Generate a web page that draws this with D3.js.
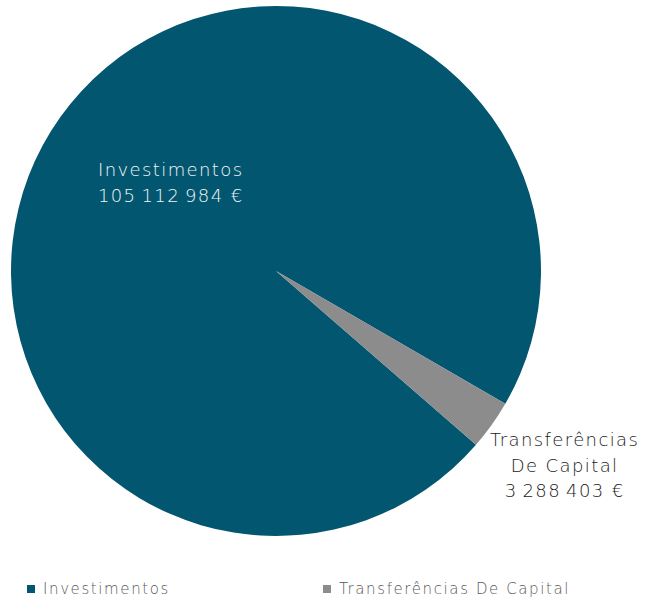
<!DOCTYPE html>
<html>
<head>
<meta charset="utf-8">
<script src="https://cdnjs.cloudflare.com/ajax/libs/d3/7.8.5/d3.min.js"></script>
<style>
  body { margin: 0; background: #fff; }
  svg { display: block; }
</style>
</head>
<body>
<div id="chart"></div>
<script>
// data
var categories = ["Investimentos", "Transferências De Capital"];
var labelLines = [["Investimentos"], ["Transferências", "De Capital"]];
var values = [105112984, 3288403];
var colors = ["#03566f", "#8c8c8c"];

var width = 645, height = 602;
var cx = 276, cy = 271, radius = 265;

var fmt = d3.formatLocale({decimal: ",", thousands: "\u202f", grouping: [3], currency: ["", " €"]}).format(",d");

var svg = d3.select("#chart").append("svg")
    .attr("width", width)
    .attr("height", height);

var g = svg.append("g")
    .attr("transform", "translate(" + cx + "," + cy + ")");

//////// PIE ////////
var pie = d3.pie()
    .sort(null)
    .startAngle(131 * Math.PI / 180)
    .endAngle(131 * Math.PI / 180 + 2 * Math.PI)
    .value(function(d, i) { return values[i]; });

var arc = d3.arc().innerRadius(0).outerRadius(radius);
var inLabel = d3.arc().innerRadius(radius * 0.53).outerRadius(radius * 0.53);
var outLabel = d3.arc().innerRadius(radius * 1.32).outerRadius(radius * 1.32);

var arcs = pie(categories);

g.selectAll("path.slice")
    .data(arcs)
    .enter().append("path")
        .attr("class", "slice")
        .attr("d", arc)
        .attr("fill", function(d, i) { return colors[i]; });

// labels (inside for the big slice, outside for the small one)
var labels = g.selectAll("text.lbl")
    .data(arcs)
    .enter().append("text")
        .attr("class", "lbl")
        .attr("text-anchor", "middle")
        .attr("font-family", "'DejaVu Sans', sans-serif")
        .attr("font-weight", 200)
        .attr("font-size", 18)
        .attr("letter-spacing", 1.4)
        .attr("fill", function(d, i) { return i === 0 ? "#f2f6f8" : "#1a1a1a"; })
        .attr("transform", function(d, i) {
            var c = i === 0 ? inLabel.centroid(d) : outLabel.centroid(d);
            var lines = labelLines[i].length + 1;
            var dx = i === 0 ? 9 : 4;
            var dy = i === 0 ? -6 : -8;
            return "translate(" + (c[0] + dx) + "," + (c[1] + dy - (lines - 1) * 13 + 6) + ")";
        });

labels.each(function(d, i) {
    var t = d3.select(this);
    var lines = labelLines[i].concat([fmt(values[i]) + " €"]);
    lines.forEach(function(s, j) {
        t.append("tspan")
            .attr("x", 0)
            .attr("dy", j === 0 ? 0 : 25.5)
            .text(s);
    });
});

//////// LEGEND ////////
var legend = svg.append("g")
    .attr("font-family", "'DejaVu Sans', sans-serif")
    .attr("font-weight", 200)
    .attr("font-size", 15)
    .attr("letter-spacing", 1.6)
    .attr("fill", "#595959")
  .selectAll("g")
    .data(categories)
    .enter().append("g")
        .attr("transform", function(d, i) { return "translate(" + (27 + i * 296) + ",585)"; });

legend.append("rect")
    .attr("width", 8)
    .attr("height", 8)
    .attr("fill", function(d, i) { return colors[i]; });

legend.append("text")
    .attr("x", 16)
    .attr("y", 4)
    .attr("dy", "0.36em")
    .text(function(d) { return d; });
</script>
</body>
</html>
